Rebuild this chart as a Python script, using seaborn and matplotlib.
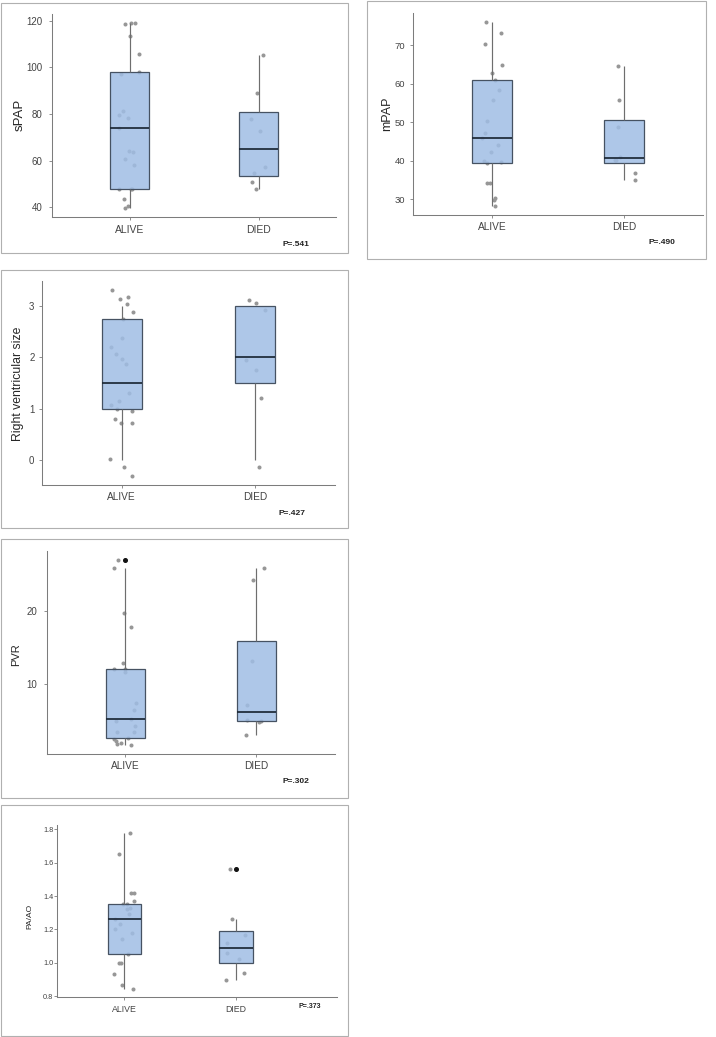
import numpy as np
import pandas as pd
import matplotlib
matplotlib.use("Agg")
import matplotlib.pyplot as plt
import seaborn as sns
from matplotlib.patches import Rectangle
from matplotlib.ticker import FormatStrFormatter

sns.set_style("ticks")
plt.rcParams["font.family"] = ["Liberation Sans", "DejaVu Sans"]

groups = ["ALIVE", "DIED"]

# ---- data ----
spap_alive = [119.0, 118.9, 118.6, 113.7, 105.8, 98.1, 97.1, 81.2, 79.5, 78.4, 74.0,
              64.1, 63.5, 60.6, 58.3, 47.8, 47.6, 47.6, 43.3, 40.4, 39.6]
spap_died = [105.3, 89.2, 77.9, 72.9, 57.3, 54.5, 50.6, 48.0]

mpap_alive = [76.1, 73.3, 70.3, 65.0, 62.8, 61.0, 58.3, 55.9, 50.3, 47.1, 45.9,
              44.0, 42.3, 40.0, 39.7, 39.3, 34.1, 34.1, 30.3, 29.7, 28.3]
mpap_died = [64.6, 55.8, 48.7, 41.0, 40.3, 40.15, 36.75, 35.0]

rv_alive = [3, 3, 3, 3, 3, 3, 2, 2, 2, 2, 2, 1, 1, 1, 1, 1, 1, 1, 1, 0, 0, 0]
rv_died = [3, 3, 3, 2, 2, 1, 0]
rv_alive_shown = [3.30, 3.17, 3.14, 3.03, 2.88, 2.75, 2.37, 2.19, 2.07, 1.96, 1.86,
                  1.30, 1.15, 1.08, 1.00, 0.96, 0.80, 0.72, 0.72, 0.03, -0.13, -0.30]
rv_died_shown = [3.11, 3.05, 2.91, 1.95, 1.75, 1.20, -0.13]

pvr_alive = [26.9, 25.9, 19.7, 17.7, 12.8, 12.0, 12.0, 11.6, 7.3, 6.3, 5.1,
             4.8, 4.2, 3.4, 3.3, 2.5, 2.4, 2.05, 1.8, 1.7, 1.6]
pvr_died = [25.9, 24.2, 13.1, 7.0, 5.06, 4.9, 4.7, 3.0]

paao_alive = [1.78, 1.65, 1.42, 1.42, 1.37, 1.355, 1.35, 1.33, 1.32, 1.29, 1.26,
              1.23, 1.20, 1.18, 1.14, 1.055, 1.00, 1.00, 0.93, 0.864, 0.84]
paao_died = [1.56, 1.26, 1.167, 1.12, 1.06, 1.02, 0.94, 0.898]

titles = ["sPAP", "mPAP", "Right ventricular size", "PVR", "PA/AO"]
pvalues = ["P=.541", "P=.490", "P=.427", "P=.302", "P=.373"]

# ---- styling ----
W, H = 716, 1037
BOX_FACE = (0.627, 0.741, 0.894, 0.85)
BOX_EDGE = "#465262"
MEDIAN = "#1c2836"
WHISKER = "#6e6e6e"
POINT = "#979797"
AXIS = "#7c7c7c"
TICKLAB = "#444444"
TITLE = "#262626"

fig = plt.figure(figsize=(W / 100, H / 100), dpi=100)


def fx(x):
    return x / W


def fy(y):
    return 1 - y / H


def add_border(l, t, r, b):
    fig.add_artist(Rectangle((fx(l), fy(b)), (r - l) / W, (b - t) / H,
                             transform=fig.transFigure, fill=False,
                             edgecolor="#b0b0b0", linewidth=0.8))


def panel(rect, alive_box, died_box, alive_pts, died_pts, yticks, title, title_xy,
          title_size, pval, pval_xy, pval_size, ysize, xsize, ypad, xright=1.6,
          fmt=None, seed=0):
    l, t, r, b = rect
    ax = fig.add_axes([fx(l), fy(b), (r - l) / W, (b - t) / H])
    box_df = pd.DataFrame({"group": ["ALIVE"] * len(alive_box) + ["DIED"] * len(died_box),
                           "value": list(alive_box) + list(died_box)})
    pt_df = pd.DataFrame({"group": ["ALIVE"] * len(alive_pts) + ["DIED"] * len(died_pts),
                          "value": list(alive_pts) + list(died_pts)})
    np.random.seed(seed)
    sns.stripplot(data=pt_df, x="group", y="value", order=groups, jitter=0.09,
                  size=2.9, color=POINT, linewidth=0, ax=ax, zorder=1)
    sns.boxplot(data=box_df, x="group", y="value", order=groups, width=0.3, whis=1.5,
                color=BOX_FACE[:3], showcaps=False, ax=ax, zorder=2,
                boxprops=dict(facecolor=BOX_FACE, edgecolor=BOX_EDGE, linewidth=0.9),
                medianprops=dict(color=MEDIAN, linewidth=1.25),
                whiskerprops=dict(color=WHISKER, linewidth=0.85),
                flierprops=dict(marker="o", markerfacecolor="#111111",
                                markeredgecolor="#111111", markersize=2.6,
                                linestyle="none"))
    allv = list(alive_pts) + list(died_pts) + list(alive_box) + list(died_box)
    lo, hi = min(allv), max(allv)
    pad = 0.05 * (hi - lo)
    ax.set_ylim(lo - pad, hi + pad)
    ax.set_xlim(-0.6, xright)
    ax.set_yticks(yticks)
    if fmt:
        ax.yaxis.set_major_formatter(FormatStrFormatter(fmt))
    ax.set_xlabel("")
    ax.set_ylabel("")
    for s in ["top", "right"]:
        ax.spines[s].set_visible(False)
    for s in ["left", "bottom"]:
        ax.spines[s].set_color(AXIS)
        ax.spines[s].set_linewidth(0.75)
    ax.tick_params(axis="y", length=2.2, width=0.6, color=AXIS, labelcolor=TICKLAB,
                   labelsize=ysize, pad=ypad)
    ax.tick_params(axis="x", length=2.2, width=0.6, color=AXIS, labelcolor=TICKLAB,
                   labelsize=xsize, pad=3.0)
    ax.set_facecolor("white")
    fig.text(fx(title_xy[0]), fy(title_xy[1]), title, rotation=90, ha="center",
             va="center", fontsize=title_size, color=TITLE)
    fig.text(fx(pval_xy[0]), fy(pval_xy[1]), pval, ha="center", va="center",
             fontsize=pval_size, fontweight="bold", color="#222222")
    return ax


# panel borders
add_border(1.3, 2.7, 348.3, 253.3)
add_border(367.3, 0.6, 706, 259)
add_border(1.3, 269.7, 348.3, 528.3)
add_border(1.3, 539, 348.3, 798.3)
add_border(1.3, 805, 348.3, 1035.7)

panel((52.3, 14, 336, 217.3), spap_alive, spap_died, spap_alive, spap_died,
      [40, 60, 80, 100, 120], titles[0], (20, 115), 9.5, pvalues[0], (296, 245), 6.0,
      7.0, 7.5, 4.8, seed=3)

panel((413.3, 12.7, 702.7, 215), mpap_alive, mpap_died, mpap_alive, mpap_died,
      [30, 40, 50, 60, 70], titles[1], (386.7, 113.3), 9.0, pvalues[1], (662.3, 242.5), 6.0,
      6.8, 7.3, 3.6, seed=5)

panel((41.7, 281, 335, 485), rv_alive, rv_died, rv_alive_shown, rv_died_shown,
      [0, 1, 2, 3], titles[2], (18, 383.5), 8.8, pvalues[2], (292.3, 513.3), 6.0,
      7.0, 7.3, 3.0, seed=7)

panel((46.7, 551, 335, 754), pvr_alive, pvr_died, pvr_alive, pvr_died,
      [10, 20], titles[3], (16.3, 654.7), 8.0, pvalues[3], (295.7, 781.7), 6.0,
      7.0, 7.3, 4.6, seed=11)

panel((57.3, 825, 336.7, 997.3), paao_alive, paao_died, paao_alive, paao_died,
      [0.8, 1.0, 1.2, 1.4, 1.6, 1.8], titles[4], (29.5, 916), 6.0, pvalues[4],
      (309.3, 1006.7), 5.0, 5.3, 6.3, 0.6, xright=1.9, fmt="%.1f", seed=13)

fig.savefig("out.png", dpi=100, facecolor="white")
